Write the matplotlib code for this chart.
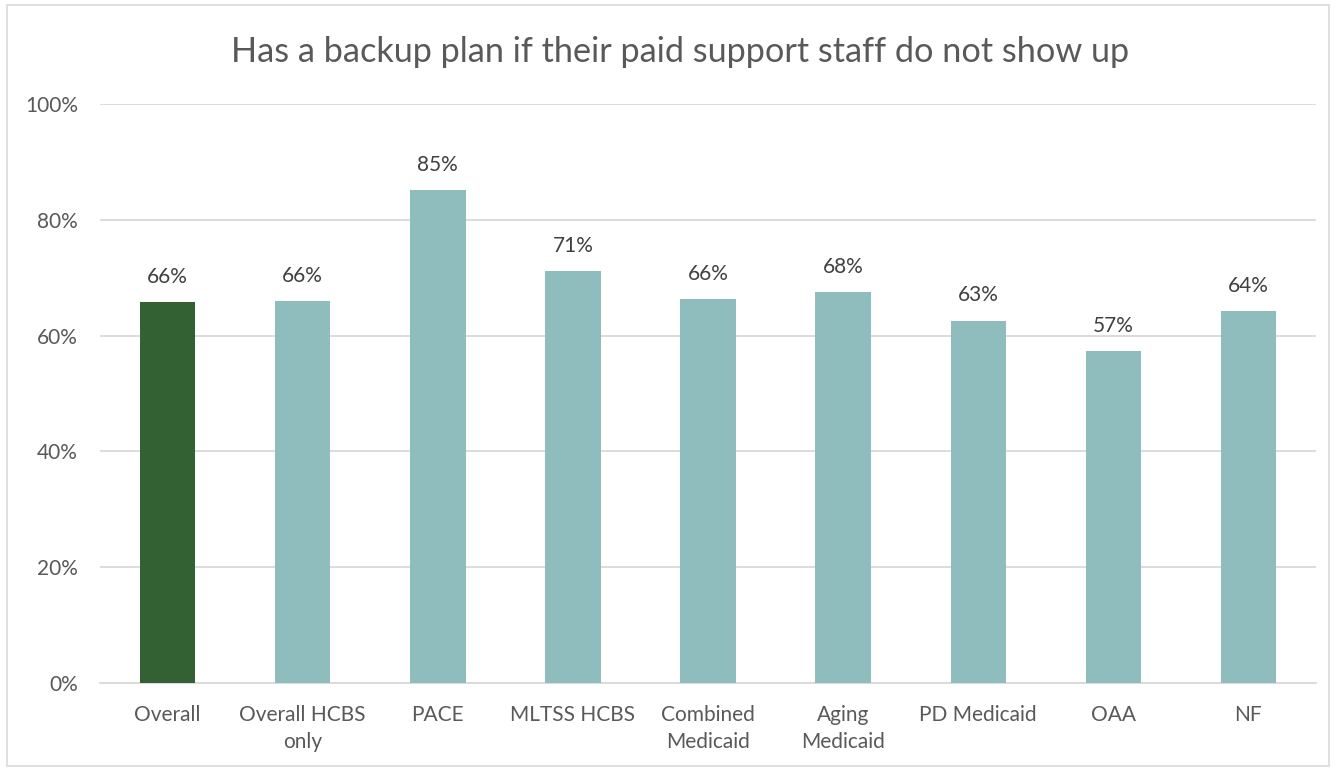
import matplotlib.pyplot as plt
from matplotlib.patches import Rectangle

categories = ["Overall", "Overall HCBS\nonly", "PACE", "MLTSS HCBS", "Combined\nMedicaid",
              "Aging\nMedicaid", "PD Medicaid", "OAA", "NF"]
values = [65.8, 66.0, 85.1, 71.2, 66.3, 67.6, 62.6, 57.4, 64.3]
labels = ["66%", "66%", "85%", "71%", "66%", "68%", "63%", "57%", "64%"]
yticks = [0, 20, 40, 60, 80, 100]

plt.rcParams["font.family"] = ["Lato", "DejaVu Sans"]
text_color = "#595959"

fig = plt.figure(figsize=(13.36, 7.7), dpi=100)
ax = fig.add_axes([0.0749, 0.113, 0.9101, 0.752])

colors = ["#336133"] + ["#8fbdbd"] * (len(values) - 1)
x = range(len(categories))
ax.bar(x, values, width=0.41, color=colors, zorder=3)

for xi, v, lab in zip(x, values, labels):
    ax.text(xi, v + 2.6, lab, ha="center", va="bottom", fontsize=15, color="#404040")

ax.set_xlim(-0.5, len(categories) - 0.5)
ax.set_ylim(0, 100)
ax.set_yticks(yticks)
ax.set_yticklabels([f"{t}%" for t in yticks])
ax.set_xticks(list(x))
ax.set_xticklabels(categories, linespacing=1.4)
ax.tick_params(axis="both", length=0, labelsize=15, labelcolor=text_color)
ax.tick_params(axis="x", pad=16)
ax.tick_params(axis="y", pad=16)
for t in ax.get_xticklabels():
    t.set_verticalalignment("top")

ax.grid(axis="y", color="#d9d9d9", linewidth=1.3, zorder=0)
for s in ["top", "right", "left"]:
    ax.spines[s].set_visible(False)
ax.spines["bottom"].set_color("#d9d9d9")
ax.spines["bottom"].set_linewidth(1.3)

fig.text(0.509, 0.933, "Has a backup plan if their paid support staff do not show up",
         ha="center", va="center", fontsize=24.7, color=text_color)

fig.patches.append(Rectangle((0.005, 0.005), 0.99, 0.988, transform=fig.transFigure,
                             fill=False, edgecolor="#d9d9d9", linewidth=1.2))

fig.savefig("out.png", dpi=100)
